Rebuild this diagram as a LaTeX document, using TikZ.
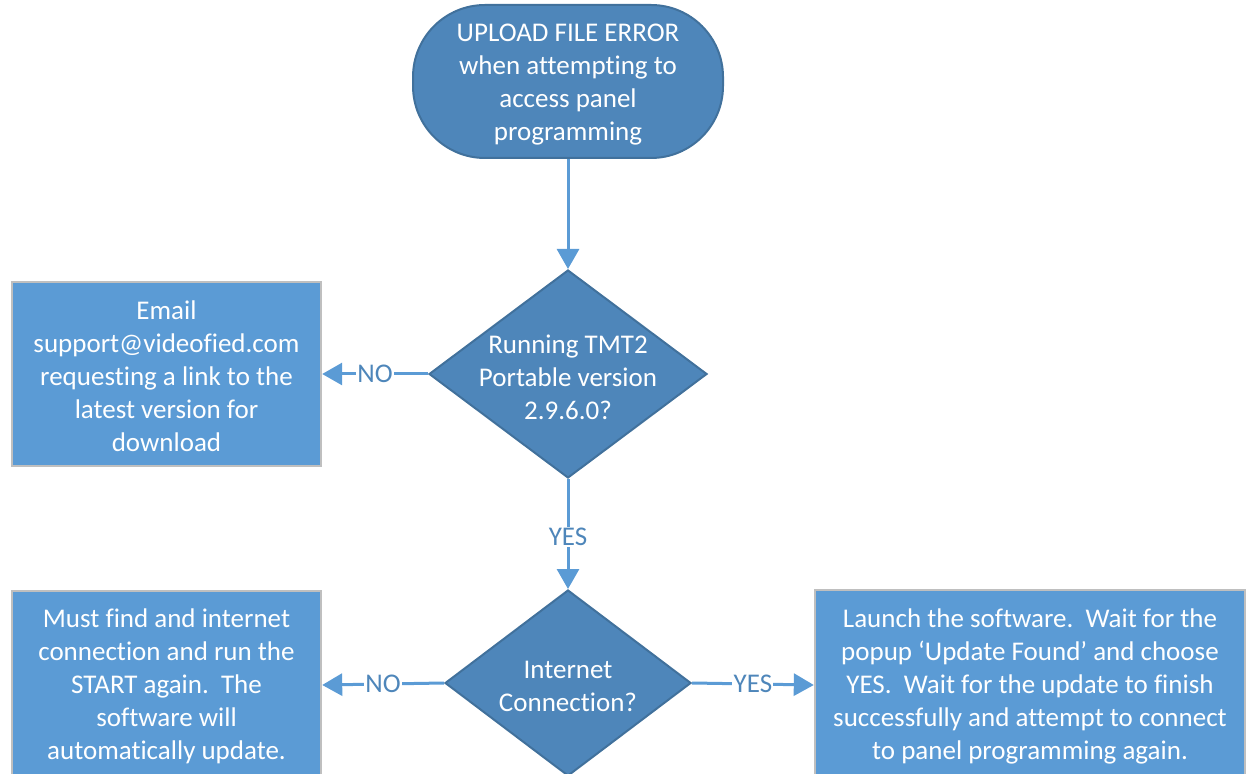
\documentclass[tikz,border=0pt]{standalone}
\usepackage{fontspec}
\setmainfont{Carlito}[Ligatures=NoCommon]
\usetikzlibrary{shapes.geometric,arrows.meta}
\definecolor{darkfill}{HTML}{4E86BA}
\definecolor{darkline}{HTML}{41719C}
\definecolor{boxfill}{HTML}{5B9BD5}
\definecolor{boxline}{HTML}{BFBFBF}
\definecolor{arrowc}{HTML}{5B9BD5}
\definecolor{labelc}{HTML}{4E86BA}
\begin{document}
\begin{tikzpicture}[x=0.5pt,y=-0.5pt,
 txt/.style={text=white,align=center,font=\fontsize{13.5}{16.5}\selectfont,inner sep=0pt},
 term/.style={draw=darkline,line width=1pt,fill=darkfill,rounded corners=36pt,minimum width=155pt,minimum height=76.5pt,inner sep=0pt},
 dia/.style={diamond,draw=darkline,line width=1pt,fill=darkfill,inner sep=0pt},
 procbox/.style={rectangle,draw=boxline,line width=1.2pt,fill=boxfill,inner sep=0pt},
 conn/.style={draw=arrowc,line width=1.5pt,-{Triangle[length=10pt,width=11pt]}},
 lbl/.style={fill=white,text=labelc,font=\fontsize{13.5}{16.5}\selectfont,inner sep=0.6pt}
]
\useasboundingbox (0,0) rectangle (1246,774);
% shapes
\node[term] (start) at (568,81.5) {};
\node[txt] (starttxt) at (568,85) {UPLOAD FILE ERROR\\when attempting to\\access panel\\programming};
\node[dia,minimum width=139pt,minimum height=104pt] (d1) at (568,374) {};
\node[txt] (d1txt) at (568,377) {Running TMT2\\Portable version\\2.9.6.0?};
\node[procbox,minimum width=154.5pt,minimum height=92pt] (email) at (166.5,374) {};
\node[txt] (emailtxt) at (166.5,376) {Email\\support@videofied.com\\requesting a link to the\\latest version for\\download};
\node[dia,minimum width=123pt,minimum height=93pt] (d2) at (568,683) {};
\node[txt] (d2txt) at (568,686) {Internet\\Connection?};
\node[procbox,minimum width=154.5pt,minimum height=94pt] (must) at (166.5,685) {};
\node[txt] (musttxt) at (166.5,686) {Must find and internet\\connection and run the\\START again.\ \ The\\software will\\automatically update.};
\node[procbox,minimum width=215pt,minimum height=95pt] (launch) at (1030,685) {};
\node[txt] (launchtxt) at (1030,686) {Launch the software.\ \ Wait for the\\popup ‘Update Found’ and choose\\YES.\ \ Wait for the update to finish\\successfully and attempt to connect\\to panel programming again.};
% connectors
\draw[conn] (start.south) -- (d1.north);
\draw[conn] (d1.west) -- node[lbl] (no1) {NO} (email.east);
\draw[conn] (d1.south) -- node[lbl,pos=0.53] (yes1) {YES} (d2.north);
\draw[conn] (d2.west) -- node[lbl] (no2) {NO} (must.east);
\draw[conn] (d2.east) -- node[lbl] (yes2) {YES} (launch.west);
\end{tikzpicture}
\end{document}
